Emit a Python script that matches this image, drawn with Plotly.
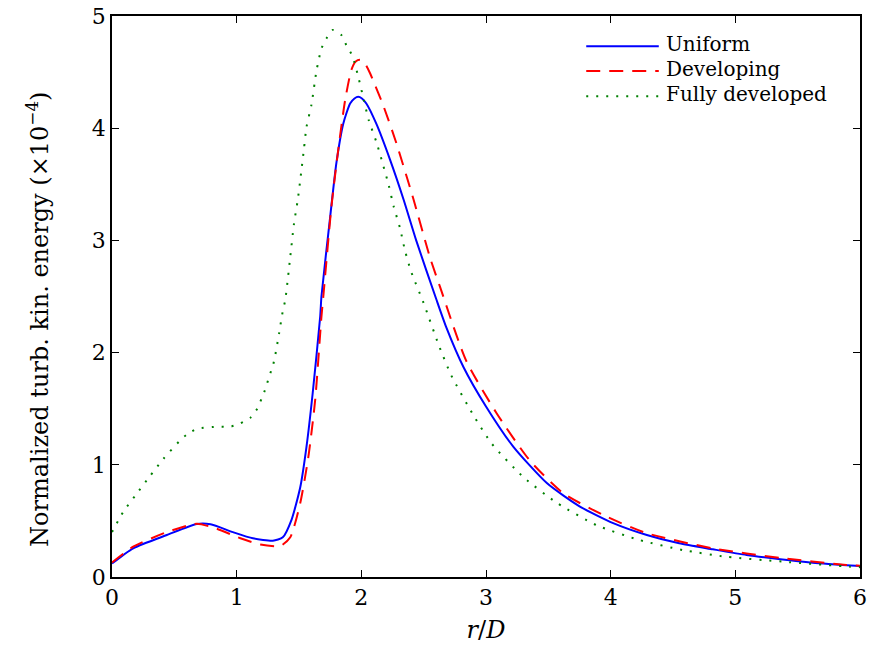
import plotly.graph_objects as go

x_uniform = [0.0, 0.17, 0.44, 0.68, 0.79, 0.97, 1.13, 1.29, 1.37, 1.44, 1.51, 1.56, 1.61, 1.67, 1.68, 1.75, 1.80,
             1.855, 1.91, 1.945, 1.975, 2.005, 2.04, 2.12, 2.23, 2.34, 2.44, 2.60, 2.68, 2.82, 3.00, 3.22, 3.49,
             3.75, 4.02, 4.29, 4.55, 4.82, 5.09, 5.36, 5.62, 6.0]
y_uniform = [0.12, 0.256, 0.374, 0.472, 0.47, 0.40, 0.345, 0.324, 0.354, 0.51, 0.80, 1.16, 1.64, 2.32, 2.50, 3.21,
             3.69, 4.04, 4.22, 4.265, 4.28, 4.265, 4.22, 4.04, 3.72, 3.36, 3.00, 2.48, 2.23, 1.87, 1.52, 1.16,
             0.835, 0.63, 0.48, 0.374, 0.30, 0.247, 0.196, 0.158, 0.128, 0.098]

x_developing = [0.0, 0.17, 0.44, 0.68, 0.84, 1.03, 1.19, 1.35, 1.43, 1.51, 1.575, 1.63, 1.68, 1.695, 1.76, 1.815,
                1.87, 1.92, 1.955, 1.99, 2.03, 2.07, 2.18, 2.28, 2.42, 2.55, 2.63, 2.84, 3.085, 3.35, 3.62, 3.97,
                4.29, 4.82, 5.36, 5.89, 6.0]
y_developing = [0.13, 0.27, 0.40, 0.475, 0.43, 0.345, 0.29, 0.276, 0.354, 0.66, 1.07, 1.58, 2.32, 2.50, 3.30, 3.81,
                4.25, 4.52, 4.595, 4.61, 4.575, 4.49, 4.19, 3.87, 3.36, 2.85, 2.59, 1.93, 1.46, 1.04, 0.746, 0.537,
                0.39, 0.255, 0.17, 0.107, 0.10]

x_full = [0.0, 0.09, 0.20, 0.305, 0.41, 0.54, 0.60, 0.68, 0.85, 0.95, 1.03, 1.11, 1.165, 1.20, 1.235, 1.26, 1.29,
          1.31, 1.34, 1.37, 1.39, 1.43, 1.46, 1.49, 1.52, 1.54, 1.56, 1.60, 1.64, 1.68, 1.72, 1.77, 1.84, 1.88,
          1.93, 1.975, 2.02, 2.06, 2.12, 2.17, 2.22, 2.26, 2.31, 2.35, 2.40, 2.50, 2.62, 2.72, 2.90, 3.045, 3.30,
          3.57, 3.89, 4.23, 4.58, 4.93, 5.38, 5.92, 6.0]
y_full = [0.40, 0.58, 0.745, 0.90, 1.05, 1.21, 1.27, 1.32, 1.34, 1.34, 1.37, 1.42, 1.50, 1.59, 1.69, 1.785, 1.88,
          1.98, 2.17, 2.37, 2.47, 2.855, 3.15, 3.36, 3.63, 3.82, 4.01, 4.21, 4.51, 4.71, 4.80, 4.875, 4.83, 4.74,
          4.64, 4.46, 4.25, 4.07, 3.88, 3.69, 3.49, 3.30, 3.11, 2.91, 2.72, 2.44, 2.07, 1.80, 1.44, 1.19, 0.89,
          0.66, 0.46, 0.33, 0.24, 0.18, 0.137, 0.092, 0.088]

series_names = ["Uniform", "Developing", "Fully developed"]
x_ticks = [0, 1, 2, 3, 4, 5, 6]
y_ticks = [0, 1, 2, 3, 4, 5]
x_title = "<i>r</i>/<i>D</i>"
y_title = "Normalized turb. kin. energy (×10<sup>−4</sup>)"

font_family = "DejaVu Serif"
styles = [
    dict(color="#0000ff", width=2, dash="solid"),
    dict(color="#ff0000", width=2, dash="14px,9px"),
    dict(color="#008000", width=2, dash="2px,8px"),
]

fig = go.Figure()
for name, xs, ys, st in zip(series_names, [x_uniform, x_developing, x_full],
                            [y_uniform, y_developing, y_full], styles):
    fig.add_trace(go.Scatter(x=xs, y=ys, mode="lines", name=name, showlegend=False,
                             line=dict(shape="spline", smoothing=0.6, **st)))

# legend drawn as shapes + text (paper coordinates)
leg_y = [0.946, 0.902, 0.857]
shapes = []
annotations = []
for name, st, yy in zip(series_names, styles, leg_y):
    shapes.append(dict(type="line", xref="paper", yref="paper", x0=0.634, x1=0.731, y0=yy, y1=yy,
                       line=dict(color=st["color"], width=st["width"], dash=st["dash"])))
    annotations.append(dict(xref="paper", yref="paper", x=0.738, y=yy + 0.004, xanchor="left", yanchor="middle",
                            text=name, showarrow=False, font=dict(family=font_family, size=20, color="black")))

# y-axis title as annotation (slightly below axis centre, as in the reference)
annotations.append(dict(xref="paper", yref="paper", x=-0.099, y=0.46, xanchor="center", yanchor="middle",
                        textangle=-90, text=y_title, showarrow=False,
                        font=dict(family=font_family, size=24, color="black")))

axis_common = dict(showline=True, linecolor="black", linewidth=1.5, mirror="ticks", ticks="inside",
                   ticklen=7, tickwidth=1, tickcolor="black", showgrid=False, zeroline=False,
                   automargin=False, tickfont=dict(family=font_family, size=22, color="black"))

fig.update_layout(
    width=871, height=657,
    margin=dict(l=112, r=11, t=16, b=80),
    plot_bgcolor="white", paper_bgcolor="white",
    font=dict(family=font_family, color="black"),
    xaxis=dict(range=[0, 6], tickvals=x_ticks,
               title=dict(text=x_title, font=dict(family=font_family, size=24), standoff=12),
               **axis_common),
    yaxis=dict(range=[0, 5], tickvals=y_ticks, **axis_common),
    shapes=shapes,
    annotations=annotations,
    showlegend=False,
)

fig.write_html("out.html")
